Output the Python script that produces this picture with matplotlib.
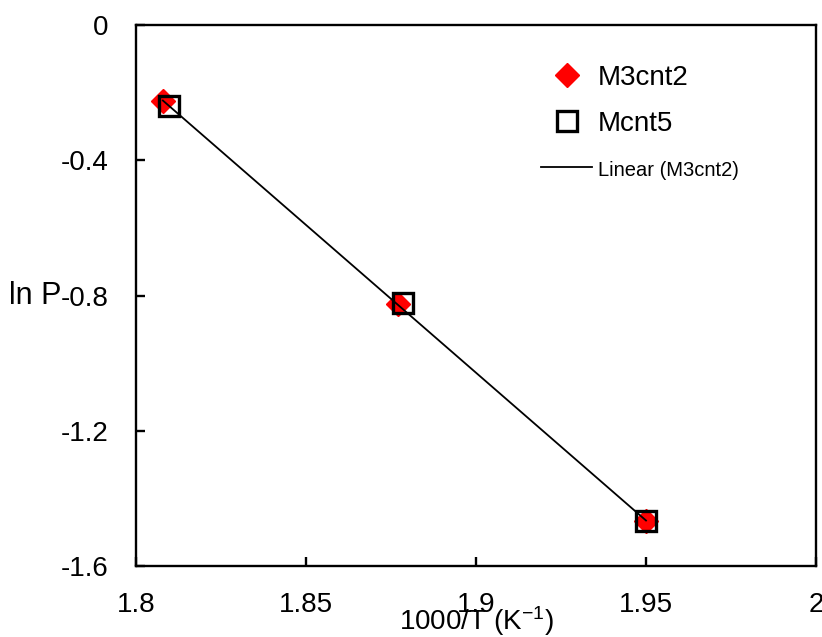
import numpy as np
import matplotlib
matplotlib.use('Agg')
import matplotlib.pyplot as plt
from matplotlib.lines import Line2D

# data
x_m3cnt2 = [1.8079, 1.8771, 1.9500]
y_m3cnt2 = [-0.225, -0.825, -1.467]
x_mcnt5 = [1.8097, 1.8785, 1.9500]
y_mcnt5 = [-0.240, -0.822, -1.467]

xticks = [1.8, 1.85, 1.9, 1.95, 2.0]
xtick_labels = ['1.8', '1.85', '1.9', '1.95', '2']
yticks = [-1.6, -1.2, -0.8, -0.4, 0.0]
ytick_labels = ['-1.6', '-1.2', '-0.8', '-0.4', '0']

plt.rcParams['font.family'] = ['Liberation Sans', 'DejaVu Sans']
plt.rcParams['mathtext.default'] = 'regular'

fig = plt.figure(figsize=(8.22, 6.37), dpi=100)
ax = fig.add_axes([136 / 822, 1 - 566 / 637, 680 / 822, 541 / 637])

# linear fit of M3cnt2
k, b = np.polyfit(x_m3cnt2, y_m3cnt2, 1)
xf = np.array([min(x_m3cnt2), max(x_m3cnt2)])

ax.plot(x_m3cnt2, y_m3cnt2, linestyle='none', marker='D', color='red',
        markersize=12, zorder=2)
ax.plot(x_mcnt5, y_mcnt5, linestyle='none', marker='s', markerfacecolor='none',
        markeredgecolor='black', markeredgewidth=2.4, markersize=14, zorder=3)
ax.plot(xf, k * xf + b, color='black', linewidth=1.3, zorder=4)

ax.set_xlim(1.8, 2.0)
ax.set_ylim(-1.6, 0.0)
ax.set_xticks(xticks)
ax.set_xticklabels(xtick_labels)
ax.set_yticks(yticks)
ax.set_yticklabels(ytick_labels)
ax.tick_params(axis='both', direction='in', length=6.5, width=1.7, labelsize=20)
ax.tick_params(axis='x', pad=19)
ax.tick_params(axis='y', pad=20)
for s in ax.spines.values():
    s.set_linewidth(1.7)

ax.set_xlabel('1000/T (K$^{-1}$)', fontsize=20)
ax.xaxis.set_label_coords(0.5, -0.07)
ax.set_ylabel('ln P', fontsize=22, rotation=0, ha='center', va='center')
ax.yaxis.set_label_coords(-0.1485, 0.5)

handles = [
    Line2D([], [], linestyle='none', marker='D', color='red', markersize=12),
    Line2D([], [], linestyle='none', marker='s', markerfacecolor='none',
           markeredgecolor='black', markeredgewidth=2.4, markersize=14),
    Line2D([], [], color='black', linewidth=1.3),
]
leg = ax.legend(handles, ['M3cnt2', 'Mcnt5', 'Linear (M3cnt2)'],
                loc='upper left', bbox_to_anchor=(0.5956, 0.926),
                frameon=False, fontsize=20, borderpad=0, borderaxespad=0,
                handlelength=1.84, handletextpad=0.2, labelspacing=0.72)
leg.get_texts()[2].set_fontsize(14.5)

fig.savefig('out.png', dpi=100)
